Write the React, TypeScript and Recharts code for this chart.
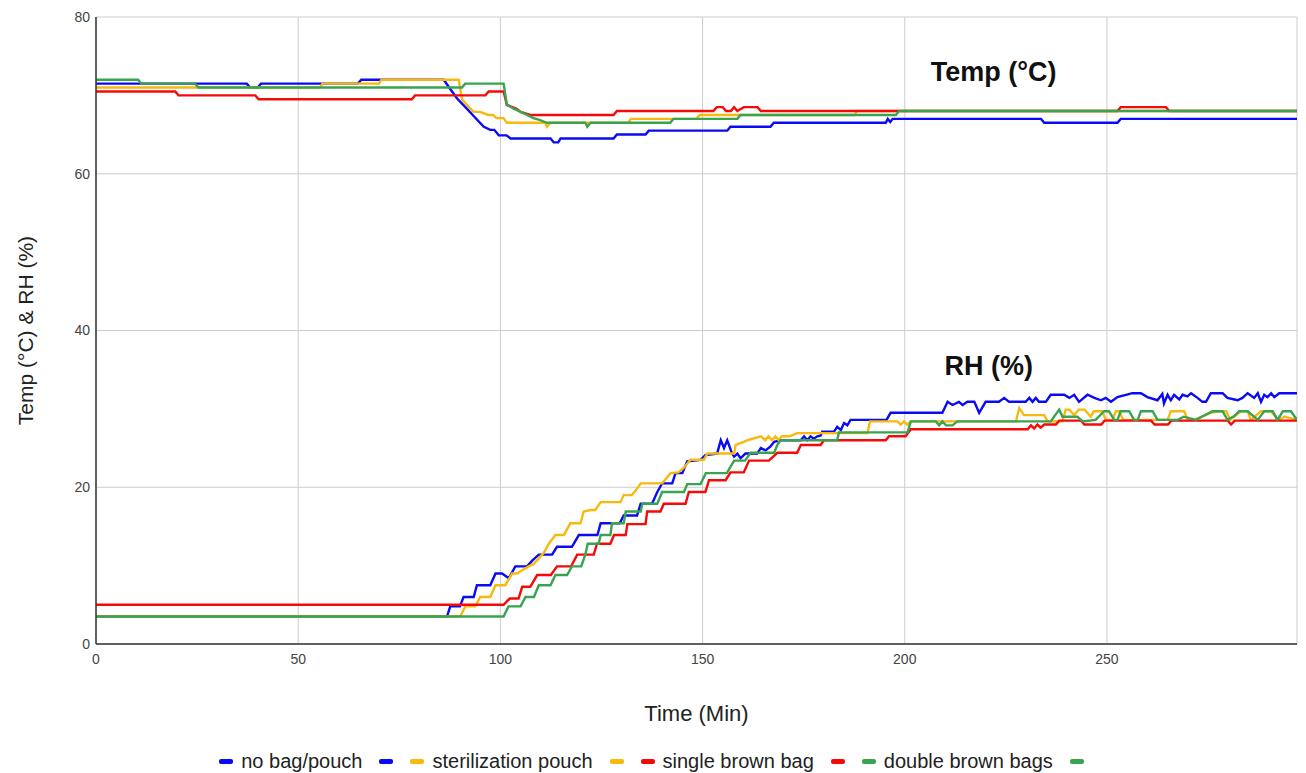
import React from "react";
import {
  CartesianGrid,
  Legend,
  Line,
  LineChart,
  ReferenceDot,
  XAxis,
  YAxis,
} from "recharts";

// [time (min), value] pairs
const noBagTemp: [number, number][] = [
  [0, 71.5], [37.3, 71.5], [38.1, 71], [40, 71], [40.8, 71.5], [64.8, 71.5], [65.6, 72], [86, 72],
  [87.2, 71.1], [89.3, 69.6], [91.7, 68.3], [93.5, 67.3], [95.9, 66], [97.5, 65.6], [98.5, 65.6],
  [99.6, 64.9], [101.5, 64.9], [102.5, 64.5], [112.4, 64.5], [113.2, 64], [114.3, 64], [114.9, 64.5],
  [128, 64.5], [128.8, 65], [135.9, 65], [136.7, 65.5], [156.1, 65.5], [156.9, 66], [166.8, 66],
  [167.6, 66.5], [195.3, 66.5], [195.8, 67], [196.4, 66.6], [197, 67], [233.7, 67], [234.5, 66.5],
  [252.6, 66.5], [253.4, 67], [297, 67],
];

const noBagRH: [number, number][] = [
  [0, 3.5], [86.8, 3.5], [87.6, 4.8], [90, 4.8], [90.9, 6], [93.4, 6], [94.2, 7.5], [97.5, 7.5],
  [98.8, 9], [100.4, 9], [102.1, 8.4], [103.7, 9.9], [106.6, 9.9], [108, 10.7], [109.5, 11.4],
  [112.8, 11.4], [114, 12.4], [117.7, 12.4], [119.4, 13.9], [124, 13.9], [124.8, 15.4], [129.5, 15.4],
  [130.5, 16.4], [133.8, 16.4], [134.7, 17.9], [137.5, 17.9], [138.8, 19.4], [140, 20.5], [142.5, 20.5],
  [143.3, 21.8], [145, 21.8], [146.2, 23.3], [149.5, 23.5], [150.7, 24.1], [153.6, 24.3], [154.5, 26],
  [155.3, 25], [156.1, 26], [157.3, 24.3], [157.8, 23.9], [158.6, 24.3], [159.4, 23.7], [160.6, 24.3],
  [163.5, 24.3], [164.4, 25], [165.6, 24.7], [166.8, 25.2], [167.7, 25.8], [169.3, 26], [174.3, 26],
  [175.1, 26.5], [175.9, 26], [176.7, 26.5], [177.5, 26.2], [178.4, 26.5], [179.2, 26.6], [179.6, 27.1],
  [182.5, 27.1], [183.3, 27.7], [184.2, 27.3], [185, 28.2], [185.8, 27.9], [186.6, 28.6], [195.5, 28.6],
  [196.5, 29.5], [209.3, 29.5], [210.6, 30.9], [211.8, 30.5], [213.4, 30.9], [214.3, 30.5], [215.5, 30.9],
  [217.2, 30.9], [218.4, 29.5], [220, 30.9], [223.3, 30.9], [224.6, 31.4], [225.8, 30.9], [229.9, 30.9],
  [230.8, 31.4], [231.6, 30.9], [232.4, 31.4], [233.2, 30.9], [234.9, 30.9], [236.1, 31.8], [239.4, 31.8],
  [240.7, 31.4], [241.9, 31.8], [243.1, 30.9], [245.2, 31.8], [246.9, 31.4], [248.5, 31.1], [249.7, 31.4],
  [251, 30.9], [252.6, 31.5], [256.3, 32], [258.4, 32], [260, 31.5], [262.5, 31.1], [263.7, 31.9],
  [264.1, 30.7], [265, 31.8], [265.8, 31.1], [266.6, 31.8], [267.9, 31.2], [268.7, 31.8], [269.9, 31.6],
  [270.8, 32], [272.4, 31.4], [273.6, 30.9], [274.5, 30.9], [275.7, 32], [278.6, 32], [279.8, 31.4],
  [282.3, 31.1], [283.5, 31.4], [284.8, 32], [286.4, 31.4], [287.3, 32], [288.1, 30.9], [288.9, 31.8],
  [289.7, 31.5], [290.6, 32], [291.4, 31.5], [292.6, 32], [297, 32],
];

const pouchTemp: [number, number][] = [
  [0, 71], [55.4, 71], [56, 71.5], [70, 71.5], [70.6, 72], [89.7, 72], [90.5, 69.5], [92.6, 68.3],
  [93.4, 67.9], [95, 67.9], [97, 67.5], [98.2, 67.5], [99, 67.1], [100.8, 67.1], [101.6, 66.5],
  [111.1, 66.5], [111.5, 66], [112.4, 66.5], [131.5, 66.5], [132.3, 67], [148.5, 67], [149.3, 67.5],
  [187.5, 67.5], [188.3, 68], [297, 68],
];

const pouchRH: [number, number][] = [
  [0, 3.5], [90.1, 3.5], [91.3, 4.8], [93.8, 4.8], [95, 6], [97.5, 6], [98.8, 7.5], [101.2, 7.5],
  [102.9, 9], [104.1, 9], [106, 9.6], [107, 9.9], [108.2, 10.2], [109.1, 10.7], [110.7, 11.6],
  [112, 12.8], [113.6, 13.9], [115.7, 13.9], [117.3, 15.4], [119.8, 15.4], [120.6, 16.9], [122.3, 17.1],
  [123.5, 17.1], [124.8, 18.1], [129.7, 18.1], [130.5, 19], [132.5, 19], [133.5, 19.6], [134.7, 20.5],
  [140, 20.5], [142.1, 21.8], [144, 21.9], [145.4, 22.5], [147, 23.5], [150.3, 23.5], [151.2, 24.3],
  [157.8, 24.3], [158.2, 25.4], [160.2, 25.8], [161.1, 26], [164.4, 26.5], [165.5, 26], [166.3, 26.5],
  [167.2, 26], [168, 26.5], [168.8, 26], [169.6, 26.5], [171.5, 26.5], [173.4, 26.9], [190.8, 26.9],
  [191.4, 28.4], [198.2, 28.4], [199, 28], [199.8, 28.4], [200.6, 28], [201.5, 28.4], [227.5, 28.4],
  [228.3, 30.1], [229.5, 29.2], [234.5, 29.2], [235.3, 28.4], [239, 28.4], [239.8, 29.9], [240.7, 29.9],
  [241.9, 29.2], [243, 29.9], [244.5, 29.9], [246, 29], [246.8, 29.7], [248.9, 29.7], [249.7, 28.6],
  [251.4, 28.6], [252.2, 29.7], [253, 29.7], [254, 28.6], [265, 28.6], [265.8, 29.7], [269.1, 29.7],
  [270, 28.6], [271.6, 28.6], [275.7, 29.5], [278, 29.7], [279.5, 29.7], [280.5, 28.6], [283.1, 29.7],
  [284.8, 29.7], [285.6, 28.6], [288.1, 29.7], [290.6, 29.7], [292.2, 28.6], [294, 29], [297, 28.6],
];

const singleTemp: [number, number][] = [
  [0, 70.5], [19.6, 70.5], [20.4, 70], [39.4, 70], [40.2, 69.5], [78.1, 69.5], [78.9, 70], [96.3, 70],
  [97.1, 70.5], [100.8, 70.5], [101.6, 68.8], [102.5, 68.6], [104, 68.3], [105, 67.9], [107.4, 67.5],
  [128, 67.5], [128.8, 68], [152.7, 68], [153.5, 68.5], [155, 68.5], [155.8, 68], [157, 68], [157.8, 68.5],
  [158.6, 68], [160.2, 68.5], [163.6, 68.5], [164.4, 68], [252.6, 68], [253.4, 68.5], [264.6, 68.5],
  [265.4, 68], [297, 68],
];

const singleRH: [number, number][] = [
  [0, 5], [100.8, 5], [102.3, 5.8], [104.5, 5.8], [105.4, 7.3], [107.4, 7.3], [109.1, 8.8], [112.5, 8.8],
  [114, 9.9], [117.5, 9.9], [119, 11.4], [123.1, 11.4], [123.9, 12.8], [127.2, 12.8], [128.1, 13.9],
  [131, 13.9], [131.4, 15.3], [135.9, 15.3], [136.3, 16.9], [139.6, 16.9], [140.4, 17.9], [145.8, 17.9],
  [146.6, 19.4], [150.7, 19.4], [151.6, 20.9], [155.7, 20.9], [156.9, 21.9], [160.2, 21.9], [161.5, 23.4],
  [166.4, 23.4], [168.5, 24.4], [173.4, 24.4], [174.3, 25.4], [179.2, 25.4], [180, 26], [195.3, 26],
  [196.1, 26.5], [200.2, 26.5], [201.5, 27.4], [230.4, 27.4], [231.2, 27.9], [232, 27.5], [232.8, 28],
  [233.6, 27.6], [234.5, 28], [237.4, 28], [238.2, 28.5], [243.6, 28.5], [244.4, 28], [248.6, 28],
  [249.4, 28.5], [260.9, 28.5], [261.8, 28], [265.1, 28], [265.9, 28.5], [279.9, 28.5], [280.7, 28],
  [281.6, 28.5], [297, 28.5],
];

const doubleTemp: [number, number][] = [
  [0, 72], [10.4, 72], [11.2, 71.5], [24.5, 71.5], [25.3, 71], [90.5, 71], [91.3, 71.5], [100.8, 71.5],
  [101.6, 68.8], [103.3, 68.3], [105.8, 67.7], [108.2, 67.1], [109.5, 66.9], [111.5, 66.5], [121, 66.5],
  [121.5, 66], [122.3, 66.5], [142, 66.5], [142.8, 67], [158.6, 67], [159.4, 67.5], [197.8, 67.5],
  [198.6, 68], [297, 68],
];

const doubleRH: [number, number][] = [
  [0, 3.5], [100.8, 3.5], [102, 4.8], [105, 4.8], [106.2, 6], [108.3, 6], [109.5, 7.5], [112.4, 7.5],
  [113.6, 8.8], [116.5, 8.8], [117.7, 9.9], [120, 9.9], [121, 11.4], [121.6, 12.8], [124.3, 12.8],
  [124.8, 13.9], [127.2, 13.9], [127.6, 15.4], [130.5, 15.4], [131, 16.9], [134.7, 16.9], [135.1, 17.9],
  [138.8, 17.9], [140, 19.4], [145.4, 19.4], [146.2, 20.4], [149.5, 20.4], [150.8, 21.8], [156, 21.8],
  [157.8, 23.4], [160.5, 23.4], [161.9, 24.4], [167.7, 24.4], [168.5, 25.4], [169.3, 26], [183.3, 26],
  [183.7, 27], [200.7, 27], [201.5, 28.4], [207.7, 28.4], [208.5, 27.9], [209.3, 28.4], [210.2, 27.9],
  [211.8, 27.9], [213, 28.4], [236.1, 28.4], [238.2, 29.9], [239, 29], [242.7, 29], [244, 28.4],
  [247.2, 28.6], [249.3, 29.7], [250.5, 29.7], [251.8, 28.6], [252.6, 28.6], [253.4, 29.7], [255.5, 29.7],
  [256.7, 28.6], [257.6, 28.6], [258.4, 29.7], [261.3, 29.7], [262.5, 28.6], [267.5, 28.6], [269, 29],
  [272, 28.6], [276.1, 29.7], [278.6, 29.7], [279.8, 28.6], [281.5, 29.1], [282.7, 29.7], [284.8, 29.7],
  [287.3, 28.6], [288.9, 29.7], [291, 29.7], [292.2, 28.6], [293.5, 29.7], [295.5, 29.7], [297, 28.6],
];

const xTicks = [0, 50, 100, 150, 200, 250];
const yTicks = [0, 20, 40, 60, 80];

const BLUE = "#0a0af5";
const YELLOW = "#f8b90f";
const RED = "#f50a0a";
const GREEN = "#38a450";
const FONT = "'Liberation Sans', Arial, sans-serif";

// order matters: later series are drawn on top (green over everything)
const series = [
  { key: "noBagTemp", name: "no bag/pouch", color: BLUE, data: noBagTemp },
  { key: "noBagRH", name: "", color: BLUE, data: noBagRH },
  { key: "pouchTemp", name: "sterilization pouch", color: YELLOW, data: pouchTemp },
  { key: "pouchRH", name: "", color: YELLOW, data: pouchRH },
  { key: "singleTemp", name: "single brown bag", color: RED, data: singleTemp },
  { key: "singleRH", name: "", color: RED, data: singleRH },
  { key: "doubleTemp", name: "double brown bags", color: GREEN, data: doubleTemp },
  { key: "doubleRH", name: "", color: GREEN, data: doubleRH },
];

const toPoints = (pairs: [number, number][]) => pairs.map(([t, v]) => ({ t, v }));

function LegendRow() {
  return (
    <div
      style={{
        display: "flex",
        justifyContent: "center",
        alignItems: "center",
        height: 24,
        paddingRight: 30,
        fontFamily: FONT,
        fontSize: 20,
        color: "#222",
      }}
    >
      {series.map((s, i) => (
        <div
          key={s.key}
          style={{ display: "flex", alignItems: "center", marginRight: i < series.length - 1 ? 17 : 0 }}
        >
          <span
            style={{
              display: "inline-block",
              width: 14,
              height: 5,
              borderRadius: 2,
              background: s.color,
            }}
          />
          {s.name && <span style={{ marginLeft: 8 }}>{s.name}</span>}
        </div>
      ))}
    </div>
  );
}

function YTitle({ viewBox }: any) {
  const cx = 17;
  const cy = viewBox.y + viewBox.height / 2;
  return (
    <text
      x={cx}
      y={cy}
      transform={`rotate(-90, ${cx}, ${cy})`}
      textAnchor="middle"
      dominantBaseline="central"
      fontSize={21}
      fill="#222"
      fontFamily={FONT}
    >
      Temp (°C) &amp; RH (%)
    </text>
  );
}

function XTitle({ viewBox }: any) {
  return (
    <text
      x={viewBox.x + viewBox.width / 2}
      y={viewBox.y + 69}
      textAnchor="middle"
      dominantBaseline="central"
      fontSize={22}
      fill="#222"
      fontFamily={FONT}
    >
      Time (Min)
    </text>
  );
}

export default function App() {
  return (
    <div style={{ width: 1290, height: 765, background: "#fff" }}>
      <LineChart
        width={1290}
        height={765}
        margin={{ top: 9, right: 1, bottom: 0, left: 28 }}
        style={{ fontFamily: FONT }}
      >
        <CartesianGrid stroke="#cccccc" strokeWidth={1} />
        <XAxis
          type="number"
          dataKey="t"
          domain={[0, 297]}
          ticks={xTicks}
          allowDataOverflow
          height={105}
          tickLine={false}
          tickSize={6}
          tickMargin={4}
          tick={{ fill: "#444", fontSize: 14 }}
          axisLine={{ stroke: "#333", strokeWidth: 1.5 }}
          label={XTitle}
        />
        <YAxis
          type="number"
          domain={[0, 80]}
          ticks={yTicks}
          width={60}
          tickLine={false}
          tickSize={4}
          tickMargin={2}
          tick={{ fill: "#444", fontSize: 14 }}
          axisLine={{ stroke: "#333", strokeWidth: 1.5 }}
          label={YTitle}
        />
        {series.map((s) => (
          <Line
            key={s.key}
            data={toPoints(s.data)}
            dataKey="v"
            name={s.name || s.key}
            type="linear"
            stroke={s.color}
            strokeWidth={2.4}
            dot={false}
            activeDot={false}
            isAnimationActive={false}
          />
        ))}
        <ReferenceDot
          x={222}
          y={73}
          r={0}
          ifOverflow="visible"
          label={{ value: "Temp (°C)", position: "center", fontSize: 27, fontWeight: 700, fill: "#111" }}
        />
        <ReferenceDot
          x={220.8}
          y={35.5}
          r={0}
          ifOverflow="visible"
          label={{ value: "RH (%)", position: "center", fontSize: 27, fontWeight: 700, fill: "#111" }}
        />
        <Legend verticalAlign="bottom" content={() => <LegendRow />} />
      </LineChart>
    </div>
  );
}
